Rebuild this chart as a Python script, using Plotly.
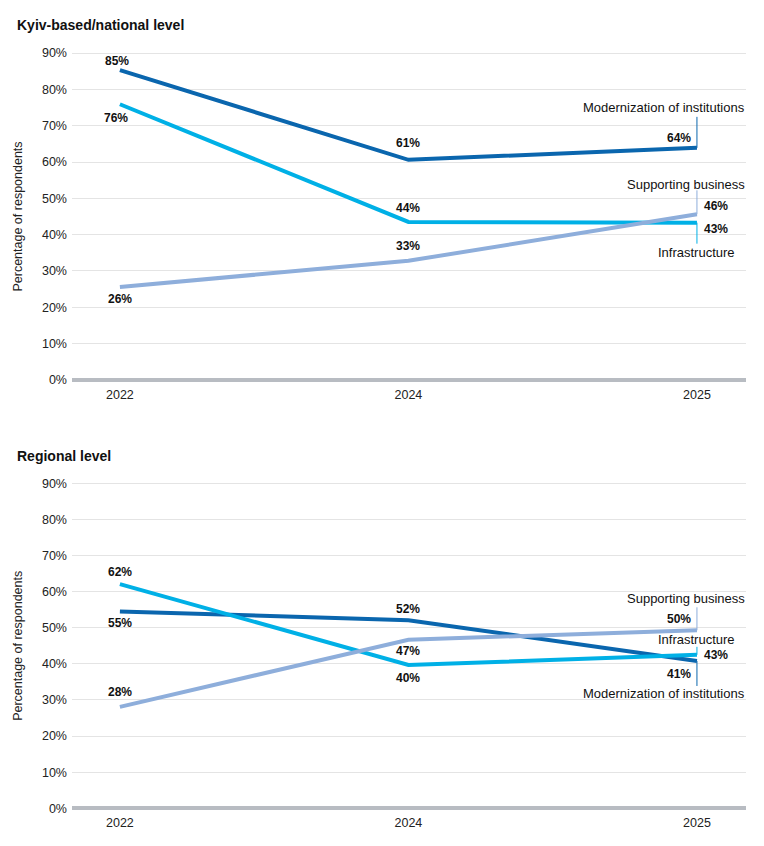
import plotly.graph_objects as go

# data
years = ["2022", "2024", "2025"]
x_pos = list(range(len(years)))
y_ticks = [0, 10, 20, 30, 40, 50, 60, 70, 80, 90]

kyiv_modern = [85.3, 60.6, 63.9]
kyiv_infra = [75.9, 43.5, 43.3]
kyiv_support = [25.6, 32.8, 45.6]
kyiv_modern_lbl = ["85%", "61%", "64%"]
kyiv_infra_lbl = ["76%", "44%", "43%"]
kyiv_support_lbl = ["26%", "33%", "46%"]

reg_modern = [54.5, 52.1, 40.8]
reg_infra = [62.1, 39.7, 42.5]
reg_support = [28.1, 46.7, 49.3]
reg_modern_lbl = ["55%", "52%", "41%"]
reg_infra_lbl = ["62%", "40%", "43%"]
reg_support_lbl = ["28%", "47%", "50%"]

series_names = ["Modernization of institutions", "Infrastructure", "Supporting business"]

C_MODERN = "#0a66ae"
C_INFRA = "#00b0e6"
C_SUPPORT = "#8eaedb"
FONT = "Liberation Sans, Arial, sans-serif"

fig = go.Figure()

panels = [
    ("y", "x", [kyiv_modern, kyiv_infra, kyiv_support],
     [kyiv_modern_lbl, kyiv_infra_lbl, kyiv_support_lbl]),
    ("y2", "x2", [reg_modern, reg_infra, reg_support],
     [reg_modern_lbl, reg_infra_lbl, reg_support_lbl]),
]
colors = [C_MODERN, C_INFRA, C_SUPPORT]

# label offsets (xshift, yshift, xanchor) per panel / series / point
lbl_pos = [
    [[(-3, 9, "center"), (0, 17, "center"), (-4, 10, "right")],
     [(-4, -14, "center"), (0, 14, "center"), (5, -6, "left")],
     [(0, -12, "center"), (0, 15, "center"), (5, 8, "left")]],
    [[(0, -11, "center"), (0, 11, "center"), (-4, -13, "right")],
     [(0, 12, "center"), (0, -13, "center"), (5, 0, "left")],
     [(0, 15, "center"), (0, -11, "center"), (-4, 11, "right")]],
]

# series-name leader: (line length px, text yshift px, xshift, xanchor)
name_pos = [
    [(31, 40, 50, "right"), (-21, -30, 0, "center"), (24, 30, 50, "right")],
    [(-25, -33, 50, "right"), (8, 15, 0, "center"), (23, 32, 50, "right")],
]

annotations = []
shapes = []
for p, (yref, xref, data, labels) in enumerate(panels):
    for s in range(3):
        fig.add_trace(go.Scatter(
            x=x_pos, y=data[s], mode="lines", xaxis=xref, yaxis=yref,
            line=dict(color=colors[s], width=4), name=series_names[s],
            showlegend=False, hoverinfo="skip",
        ))
        for i in range(3):
            xs, ys, xa = lbl_pos[p][s][i]
            annotations.append(dict(
                x=x_pos[i], y=data[s][i], xref=xref, yref=yref,
                text="<b>" + labels[s][i] + "</b>", showarrow=False,
                xshift=xs, yshift=ys, xanchor=xa,
                font=dict(size=12, color="#111111", family=FONT),
            ))
        ln, ty, tx, ta = name_pos[p][s]
        shapes.append(dict(
            type="line", xref=xref, yref=yref, ysizemode="pixel",
            yanchor=data[s][2], x0=x_pos[2], x1=x_pos[2], y0=0, y1=ln,
            line=dict(color=colors[s], width=1),
        ))
        annotations.append(dict(
            x=x_pos[2], y=data[s][2], xref=xref, yref=yref,
            text=series_names[s], showarrow=False,
            xshift=tx, yshift=ty, xanchor=ta,
            font=dict(size=13, color="#111111", family=FONT),
        ))

annotations.append(dict(
    x=-57 / 674, y=1 - 17 / 830, xref="paper", yref="paper",
    text="<b>Kyiv-based/national level</b>", showarrow=False,
    xanchor="left", yanchor="middle",
    font=dict(size=14, color="#111111", family=FONT),
))
annotations.append(dict(
    x=-57 / 674, y=1 - 448 / 830, xref="paper", yref="paper",
    text="<b>Regional level</b>", showarrow=False,
    xanchor="left", yanchor="middle",
    font=dict(size=14, color="#111111", family=FONT),
))

yaxis_style = dict(
    range=[-1, 91], tickmode="array", tickvals=y_ticks,
    ticktext=[f"{v}%" for v in y_ticks], automargin=False,
    showgrid=True, gridcolor="#e4e4e4", gridwidth=1,
    zeroline=True, zerolinecolor="#b8bcc2", zerolinewidth=4,
    showline=False, ticks="", ticklabelstandoff=4,
    tickfont=dict(size=12.5, color="#222222", family=FONT),
    title=dict(text="Percentage of respondents", standoff=16,
               font=dict(size=12.5, color="#222222", family=FONT)),
    fixedrange=True,
)
xaxis_style = dict(
    range=[-0.166, 2.17], tickmode="array", tickvals=x_pos, ticktext=years,
    automargin=False, showgrid=False, zeroline=False, showline=False,
    ticks="", ticklabelstandoff=2,
    tickfont=dict(size=12.5, color="#222222", family=FONT),
    fixedrange=True,
)

fig.update_layout(
    width=748, height=830,
    margin=dict(l=64, r=10, t=0, b=0, autoexpand=False),
    paper_bgcolor="white", plot_bgcolor="white",
    xaxis=dict(domain=[0, 1], anchor="y", **xaxis_style),
    yaxis=dict(domain=[0.5475, 0.9501], anchor="x", **yaxis_style),
    xaxis2=dict(domain=[0, 1], anchor="y2", **xaxis_style),
    yaxis2=dict(domain=[0.0314, 0.4317], anchor="x2", **yaxis_style),
    annotations=annotations, shapes=shapes,
    font=dict(family=FONT),
)

fig.write_html("out.html")
